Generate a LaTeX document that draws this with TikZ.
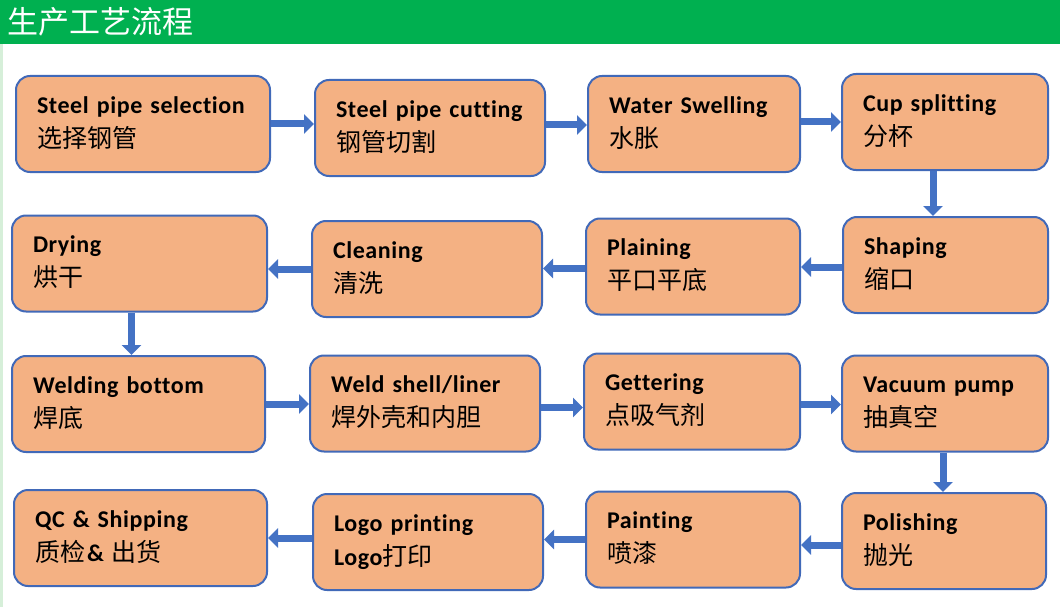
\documentclass[tikz,border=0pt]{standalone}
\usepackage{fontspec}
\setmainfont{Carlito}[LetterSpace=2.5, Ligatures=NoCommon]
\newfontfamily\cjk{Noto Sans CJK SC}
\usetikzlibrary{arrows.meta}

\definecolor{hdrgreen}{HTML}{00B050}
\definecolor{edgegreen}{HTML}{D6EFD9}
\definecolor{boxfill}{HTML}{F4B183}
\definecolor{boxline}{HTML}{4169B8}
\definecolor{arrowblue}{HTML}{4472C4}

\tikzset{
  stepbox/.style={draw=boxline, line width=2pt, fill=boxfill, rounded corners=14pt,
    align=left, inner xsep=21pt, minimum height=96pt,
    font=\fontsize{24}{34}\selectfont\bfseries},
  flow/.style={arrowblue, line width=7pt, -{Triangle[length=10pt,width=19pt]}}
}
\newcommand{\zh}[1]{{\cjk\mdseries\fontsize{25}{34}\selectfont #1\rule[-4.5pt]{0pt}{4.5pt}}}

\begin{document}
\begin{tikzpicture}[x=1pt,y=-1pt]
    \useasboundingbox (0,0) rectangle (1060,607);
    % header bar
    \fill[hdrgreen] (0,0) rectangle (1060,44);
    \fill[edgegreen] (0,44) rectangle (2.5,607);
    \node[anchor=base west, inner sep=0pt, text=white, font=\cjk\fontsize{31}{31}\selectfont] (title) at (7,34) {生产工艺流程};

    % row 1
    \node[stepbox, text width=212pt] (select) at (143,124) {Steel pipe selection\\\zh{选择钢管}};
    \node[stepbox, text width=188pt] (cut) at (430,128) {Steel pipe cutting\\\zh{钢管切割}};
    \node[stepbox, text width=170pt] (swell) at (694,124) {Water Swelling\\\zh{水胀}};
    \node[stepbox, text width=164pt] (cup) at (945,122) {Cup splitting\\\zh{分杯}};
    % row 2
    \node[stepbox, text width=163pt] (shape) at (945.5,265) {Shaping\\\zh{缩口}};
    \node[stepbox, text width=172pt] (plain) at (693,266.5) {Plaining\\\zh{平口平底}};
    \node[stepbox, text width=188pt] (clean) at (427,269) {Cleaning\\\zh{清洗}};
    \node[stepbox, text width=213pt] (dry) at (139.5,263.5) {Drying\\\zh{烘干}};
    % row 3
    \node[stepbox, text width=211pt] (bottom) at (138.5,404) {Welding bottom\\\zh{焊底}};
    \node[stepbox, text width=188pt] (shell) at (425,403.5) {Weld shell/liner\\\zh{焊外壳和内胆}};
    \node[stepbox, text width=174pt] (getter) at (692,401.5) {Gettering\\\zh{点吸气剂}};
    \node[stepbox, text width=164pt] (vacuum) at (945,403.5) {Vacuum pump\\\zh{抽真空}};
    % row 4
    \node[stepbox, text width=162pt] (polish) at (944,541) {Polishing\\\zh{抛光}};
    \node[stepbox, text width=172pt] (paint) at (693,539.5) {Painting\\\zh{喷漆}};
    \node[stepbox, text width=188pt] (logo) at (428,542) {Logo printing\\Logo\zh{打印}};
    \node[stepbox, text width=211pt] (qc) at (140.5,538) {QC \& Shipping\\\zh{质检}\hspace{2pt}\& \zh{出货}};

    % arrows
    \draw[flow] (select.east) -- (select.east -| cut.west);
    \draw[flow] ([yshift=3pt]cut.east) -- ([yshift=3pt]cut.east -| swell.west);
    \draw[flow] ([yshift=2pt]swell.east) -- ([yshift=2pt]swell.east -| cup.west);
    \draw[flow] ([xshift=-12pt]cup.south) -- ([xshift=-12pt]cup.south |- shape.north);
    \draw[flow] ([yshift=-2pt]shape.west) -- ([yshift=-2pt]shape.west -| plain.east);
    \draw[flow] ([yshift=-2pt]plain.west) -- ([yshift=-2pt]plain.west -| clean.east);
    \draw[flow] (clean.west) -- (clean.west -| dry.east);
    \draw[flow] ([xshift=-8pt]dry.south) -- ([xshift=-8pt]dry.south |- bottom.north);
    \draw[flow] (bottom.east) -- (bottom.east -| shell.west);
    \draw[flow] ([yshift=-4pt]shell.east) -- ([yshift=-4pt]shell.east -| getter.west);
    \draw[flow] ([yshift=-3pt]getter.east) -- ([yshift=-3pt]getter.east -| vacuum.west);
    \draw[flow] ([xshift=-2pt]vacuum.south) -- ([xshift=-2pt]vacuum.south |- polish.north);
    \draw[flow] ([yshift=-4pt]polish.west) -- ([yshift=-4pt]polish.west -| paint.east);
    \draw[flow] (paint.west) -- (paint.west -| logo.east);
    \draw[flow] ([yshift=4pt]logo.west) -- ([yshift=4pt]logo.west -| qc.east);
\end{tikzpicture}
\end{document}
